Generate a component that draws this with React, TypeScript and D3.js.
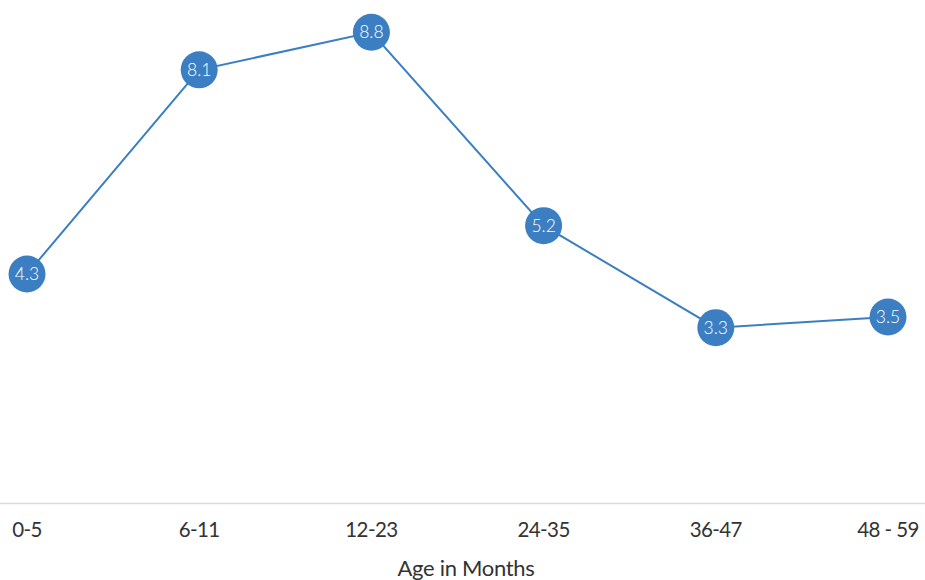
import React from "react";
import * as d3 from "d3";

const categories = ["0-5", "6-11", "12-23", "24-35", "36-47", "48 - 59"];
const values = [4.3, 8.1, 8.8, 5.2, 3.3, 3.5];
const axisTitle = "Age in Months";

const W = 925;
const H = 580;
const COLOR = "#3b7fc2";
const FONT = "Lato, 'Open Sans', sans-serif";

export default function App() {
  const x = d3.scalePoint<string>().domain(categories).range([27, 888]);
  const y = d3.scaleLinear().domain([0, 9.4]).range([505, 0]);
  const line = d3
    .line<number>()
    .x((_, i) => x(categories[i]) as number)
    .y((d) => y(d));

  return (
    <svg
      width={W}
      height={H}
      style={{ position: "absolute", left: 0, top: 0, background: "#fff" }}
      fontFamily={FONT}
    >
      <line x1={0} x2={W} y1={503.5} y2={503.5} stroke="#dcdcdc" strokeWidth={1.5} />
      {categories.map((c) => (
        <text
          key={c}
          x={x(c)}
          y={537}
          textAnchor="middle"
          fontSize={20.5}
          letterSpacing={-0.6}
          fill="#333"
        >
          {c}
        </text>
      ))}
      <text x={466} y={576} textAnchor="middle" fontSize={22} letterSpacing={-0.3} fill="#333">
        {axisTitle}
      </text>
      <path d={line(values) || ""} fill="none" stroke={COLOR} strokeWidth={2} />
      {values.map((v, i) => (
        <g key={i} transform={`translate(${x(categories[i])},${y(v)})`}>
          <circle r={18.5} fill={COLOR} />
          <text
            textAnchor="middle"
            dy="0.35em"
            fontSize={17.5}
            fontWeight={300}
            fill="#fff"
          >
            {v.toFixed(1)}
          </text>
        </g>
      ))}
    </svg>
  );
}
